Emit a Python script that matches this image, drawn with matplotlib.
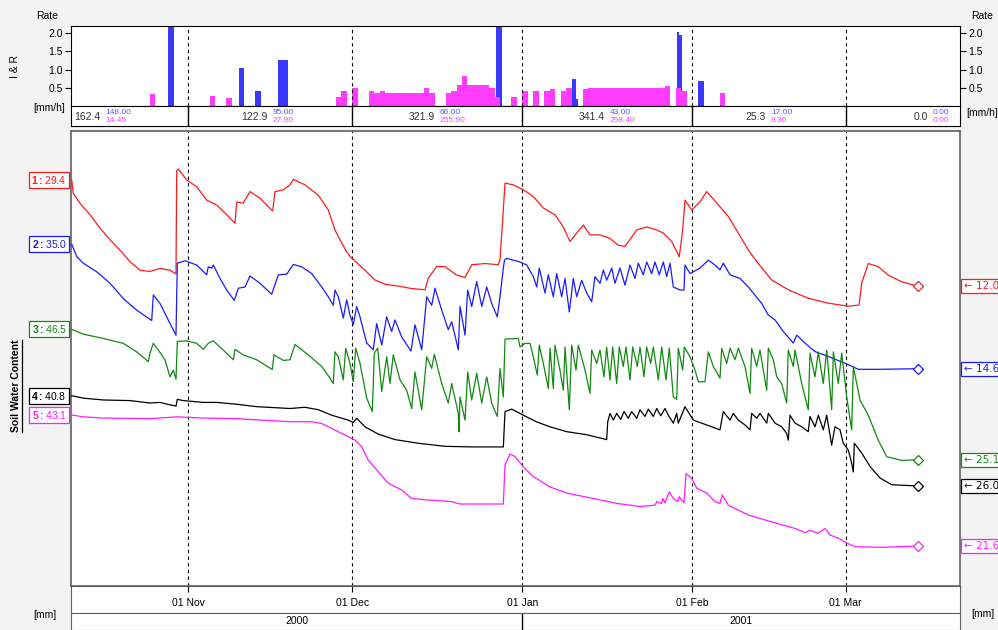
import numpy as np
import matplotlib
matplotlib.use('Agg')
import matplotlib.pyplot as plt
from matplotlib import transforms
from matplotlib.lines import Line2D
from matplotlib.ticker import FormatStrFormatter

plt.rcParams['font.family'] = ['Liberation Sans', 'DejaVu Sans']
plt.rcParams['mathtext.fontset'] = 'custom'
plt.rcParams['mathtext.rm'] = 'Liberation Sans'
plt.rcParams['mathtext.bf'] = 'Liberation Sans:bold'

# ---------------- data ----------------
# time axis in days since 2000-11-01 00:00
month_starts = [-31, 0, 30, 61, 92, 120, 151]
month_ticks = [0, 30, 61, 92, 120]
month_tick_labels = ['01 Nov', '01 Dec', '01 Jan', '01 Feb', '01 Mar']
year_labels = ['2000', '2001']
year_bounds = [-306, 61, 426]

rate_ticks = [0.5, 1.0, 1.5, 2.0]

# rain (pink) daily bars: day start, rate [mm/h]
rain_day = [-7, 4, 7, 27, 28, 30, 33, 34, 35, 36, 37, 38, 39, 40, 41, 42, 43, 44,
            47, 48, 49, 50, 51, 52, 53, 54, 55, 56, 59, 61, 63, 65, 66, 68, 69, 72,
            73, 74, 75, 76, 77, 78, 79, 80, 81, 82, 83, 84, 85, 86, 87, 89, 90, 97]
rain_rate = [0.33, 0.28, 0.22, 0.25, 0.42, 0.50, 0.42, 0.36, 0.42, 0.36, 0.36, 0.36, 0.36, 0.36, 0.36, 0.36, 0.50, 0.36,
             0.36, 0.42, 0.58, 0.83, 0.58, 0.58, 0.58, 0.58, 0.50, 0.25, 0.25, 0.42, 0.42, 0.42, 0.46, 0.42, 0.50, 0.46,
             0.50, 0.50, 0.50, 0.50, 0.50, 0.50, 0.50, 0.50, 0.50, 0.50, 0.50, 0.50, 0.50, 0.50, 0.55, 0.50, 0.42, 0.36]

# irrigation (blue) events: start day, duration [d], rate [mm/h]
irr_start = [-3.65, 9.3, 12.2, 16.4, 56.2, 70.1, 70.8, 89.2, 89.6, 93.1]
irr_dur = [1.1, 0.9, 1.2, 1.8, 1.1, 0.7, 0.4, 0.4, 0.5, 1.1]
irr_rate = [2.6, 1.03, 0.42, 1.25, 2.6, 0.75, 0.20, 2.03, 1.94, 0.69]

# monthly totals [mm]
tot_total = [162.4, 122.9, 321.9, 341.4, 25.3, 0.0]
tot_irr = [148.00, 95.00, 66.00, 43.00, 17.00, 0.00]
tot_rain = [14.45, 27.90, 255.90, 298.40, 8.30, 0.00]

# soil water content series
red_day = [-21.22, -20.93, -19.71, -17.88, -16.06, -14.23, -12.41, -10.58, -8.76, -6.93, -5.11, -3.28, -2.19, -2.06,
           -1.77, -0.24, 1.59, 3.41, 5.24, 7.06, 8.58, 8.89, 10.09, 11.31, 13.14, 15.46, 15.88, 17.39, 18.61, 19.22,
           21.35, 23.78, 25.6, 26.82, 27.74, 28.96, 29.87, 32.3, 34.12, 35.95, 38.38, 40.82, 43.25, 43.85, 45.38,
           46.9, 49.03, 50.55, 51.77, 54.2, 56.62, 56.93, 57.54, 57.85, 59.36, 61.19, 63.01, 64.84, 66.97, 68.49,
           69.71, 70.93, 72.14, 73.36, 75.18, 77.01, 78.52, 79.74, 81.88, 83.7, 85.53, 86.73, 88.27, 89.65, 90.27,
           90.69, 91.92, 93.43, 94.65, 97.08, 98.6, 100.42, 102.25, 104.07, 106.51, 109.54, 113.19, 116.84, 120.49,
           122.45, 122.94, 124.14, 125.91, 127.79, 130.24, 133.16]
red_val = [29.4, 27.2, 25.6, 23.7, 21.5, 19.6, 17.9, 16.0, 14.6, 14.4, 14.9, 14.6, 14.0, 31.0,
           31.2, 29.4, 28.3, 26.1, 25.3, 23.7, 22.3, 25.8, 25.6, 27.5, 26.4, 24.3, 27.5, 27.8, 28.6, 29.5,
           28.6, 26.9, 24.5, 21.2, 19.6, 17.6, 16.6, 14.6, 13.0, 12.3, 12.0, 11.6, 11.4, 13.3, 15.2,
           15.2, 13.8, 13.4, 15.5, 15.7, 15.5, 16.3, 24.5, 28.9, 28.6, 27.8, 26.7, 24.8, 23.7, 21.7,
           19.3, 20.7, 22.0, 20.4, 20.4, 19.8, 18.7, 18.5, 21.2, 21.7, 21.2, 20.7, 19.3, 16.8, 21.2,
           26.1, 24.5, 25.8, 27.5, 25.0, 23.4, 20.7, 17.9, 15.7, 13.0, 11.4, 10.0, 9.2, 8.7,
           8.9, 12.5, 15.7, 15.2, 13.8, 12.7, 12.0]

blue_day = [-21.22, -20.31, -19.11, -16.66, -14.23, -11.81, -9.36, -6.62, -6.33, -5.11,
            -3.28, -2.19, -1.95, -0.55, 1.59, 3.41, 3.70, 4.32, 4.62, 5.84,
            7.06, 8.45, 9.18, 10.4, 11.31, 13.14, 15.27, 16.48, 18.01, 19.22,
            20.75, 22.57, 24.4, 25.6, 26.51, 26.82, 27.43, 28.34, 28.96, 29.56,
            30.16, 30.78, 31.39, 32.61, 33.81, 34.43, 35.35, 36.26, 37.17, 37.77,
            38.99, 40.69, 41.42, 42.65, 43.56, 44.47, 45.07, 46.3, 47.5, 48.12,
            49.33, 49.64, 50.55, 51.04, 51.77, 52.68, 53.6, 54.51, 55.42, 56.44,
            56.93, 57.54, 57.76, 58.16, 60.58, 61.81, 63.01, 63.63, 64.1, 65.15,
            65.75, 66.66, 67.28, 68.19, 68.8, 69.58, 70.31, 70.93, 71.84, 72.76,
            73.67, 74.27, 75.18, 75.79, 76.4, 77.32, 77.92, 78.83, 79.74, 80.66,
            81.57, 82.17, 83.08, 83.7, 84.62, 85.22, 86.0, 86.73, 87.35, 87.96,
            88.56, 89.78, 90.51, 90.69, 91.61, 93.43, 94.95, 96.17, 97.08, 97.68,
            98.91, 100.73, 102.25, 103.16, 104.69, 105.9, 107.12, 108.63, 110.46, 111.08,
            112.59, 114.42, 116.84, 119.89, 122.32, 126.59, 133.16]
blue_val = [35.0, 33.0, 31.9, 30.5, 28.6, 26.1, 24.2, 22.5, 26.7, 25.3,
            22.0, 20.1, 31.9, 32.3, 31.6, 30.0, 31.3, 31.1, 31.6, 29.4,
            27.5, 25.8, 27.8, 28.0, 29.8, 28.6, 26.8, 30.0, 30.1, 31.7,
            31.3, 30.2, 28.0, 26.4, 25.0, 27.5, 26.4, 22.9, 25.9, 23.4,
            21.8, 24.8, 23.1, 18.8, 17.7, 22.0, 18.5, 23.1, 20.7, 22.6,
            19.8, 17.5, 21.8, 17.7, 26.4, 25.0, 27.8, 24.2, 21.0, 22.3,
            17.7, 24.8, 20.1, 27.5, 24.8, 28.9, 24.8, 28.0, 25.3, 23.1,
            26.4, 31.1, 32.4, 32.7, 32.1, 31.6, 29.7, 28.0, 31.1, 27.0,
            30.0, 26.4, 30.2, 26.4, 29.4, 23.9, 29.4, 26.4, 29.1, 27.0,
            25.6, 29.7, 28.6, 30.8, 29.1, 31.1, 28.6, 31.1, 28.3, 31.6,
            29.4, 31.9, 30.0, 32.1, 30.2, 32.1, 30.0, 32.1, 29.7, 31.9,
            28.0, 27.5, 27.5, 31.6, 30.2, 31.1, 32.4, 31.6, 30.8, 31.9,
            30.0, 29.4, 28.0, 27.0, 25.3, 23.4, 22.6, 20.7, 18.8, 20.1,
            18.8, 17.4, 16.6, 15.5, 14.5, 14.5, 14.6]

green_day = [-21.22, -19.11, -15.46, -11.81, -9.36, -7.24, -6.93, -6.33, -5.42, -4.2,
             -3.28, -2.68, -2.19, -1.95, -0.24, 1.59, 2.79, 3.7, 4.62, 6.44,
             8.27, 8.58, 10.09, 12.54, 15.38, 15.69, 17.39, 18.61, 19.53, 21.95,
             24.4, 25.91, 26.51, 26.82, 27.43, 28.34, 28.78, 29.56, 30.16, 30.6,
             31.39, 32.61, 33.63, 34.0, 34.62, 35.35, 36.26, 36.86, 37.46, 38.69,
             39.91, 40.82, 41.42, 42.65, 43.56, 44.47, 44.95, 46.3, 47.5, 48.12,
             49.33, 49.45, 49.64, 50.55, 51.04, 51.77, 52.68, 53.6, 54.51, 55.42,
             56.44, 56.93, 57.54, 57.85, 60.28, 60.58, 61.5, 62.41, 63.01, 63.74,
             64.1, 64.84, 65.75, 66.06, 66.66, 66.97, 67.88, 68.49, 68.8, 69.58,
             70.02, 70.8, 71.22, 72.45, 73.36, 73.67, 74.58, 75.18, 75.91, 76.4,
             77.01, 77.5, 78.23, 78.7, 79.43, 79.93, 80.66, 81.15, 81.99, 82.48,
             83.21, 83.7, 84.43, 84.91, 85.82, 86.44, 87.23, 87.83, 88.56, 89.18,
             89.47, 90.27, 90.57, 91.61, 92.52, 93.12, 94.34, 94.95, 95.86, 97.08,
             97.39, 98.3, 98.91, 99.82, 100.42, 101.64, 102.55, 102.86, 103.78, 104.38,
             105.6, 105.9, 106.81, 107.43, 108.34, 109.25, 109.54, 110.46, 110.77, 111.99,
             113.19, 113.5, 114.42, 115.02, 115.93, 116.55, 117.46, 117.76, 118.67, 119.29,
             120.2, 121.11, 121.41, 122.63, 124.14, 125.97, 127.5, 130.24, 133.16]
green_val = [46.5, 45.7, 45.0, 44.2, 42.8, 41.2, 42.6, 44.2, 43.1, 41.5,
             38.7, 39.8, 38.3, 44.5, 44.6, 44.2, 43.2, 44.2, 44.6, 43.1,
             41.5, 43.2, 42.3, 41.5, 39.9, 42.3, 41.4, 41.5, 44.0, 42.3,
             40.4, 38.5, 37.6, 42.8, 42.0, 38.2, 43.4, 40.9, 37.9, 43.4,
             40.9, 35.2, 33.0, 42.6, 43.4, 36.3, 42.0, 37.6, 42.3, 38.2,
             36.5, 33.5, 39.5, 33.3, 42.0, 40.1, 42.4, 37.6, 34.4, 37.6,
             32.7, 29.7, 35.4, 31.6, 39.5, 34.9, 39.3, 34.4, 38.7, 34.4,
             32.2, 40.1, 35.4, 44.9, 45.0, 43.6, 44.2, 44.2, 42.0, 39.0,
             43.9, 40.9, 36.8, 43.4, 36.8, 43.9, 39.8, 36.5, 43.6, 33.3,
             43.9, 39.8, 43.9, 39.8, 36.0, 43.1, 40.9, 43.1, 38.7, 43.6,
             38.2, 43.6, 37.6, 43.6, 40.4, 43.6, 38.2, 43.6, 40.4, 43.6,
             38.7, 43.6, 40.9, 43.6, 38.2, 43.6, 38.2, 43.4, 35.4, 35.0,
             43.4, 39.8, 43.6, 42.0, 39.8, 37.9, 37.9, 42.8, 40.4, 38.5,
             43.4, 40.9, 43.4, 41.5, 43.4, 40.4, 36.0, 43.4, 40.4, 43.1,
             36.5, 43.4, 41.5, 38.7, 37.6, 34.4, 43.1, 40.4, 43.1, 37.6,
             33.3, 42.6, 38.7, 42.8, 37.6, 43.1, 33.3, 42.8, 37.6, 42.6,
             35.4, 30.0, 40.4, 34.9, 32.4, 28.3, 25.6, 25.0, 25.1]

black_day = [-21.22, -19.11, -15.46, -10.58, -6.93, -5.11, -3.28, -2.19, -1.95, -0.86,
             2.79, 5.24, 8.89, 12.54, 18.61, 21.35, 23.78, 26.22, 29.25, 30.16,
             30.78, 32.3, 34.72, 37.77, 42.02, 46.9, 51.77, 57.54, 57.85, 59.07,
             61.19, 63.63, 66.06, 69.11, 72.76, 76.4, 76.59, 77.01, 77.61, 78.23,
             78.96, 79.56, 80.35, 80.97, 81.88, 82.48, 83.39, 84.0, 84.91, 85.53,
             86.26, 87.04, 87.65, 88.56, 89.18, 89.47, 90.69, 92.21, 94.65, 96.17,
             97.08, 97.68, 98.91, 99.51, 100.42, 101.64, 102.55, 102.86, 103.78, 104.38,
             105.6, 105.9, 107.12, 108.34, 109.25, 109.54, 109.85, 110.77, 111.99, 113.19,
             113.5, 114.42, 115.02, 115.93, 116.55, 117.46, 118.07, 118.98, 119.58, 120.49,
             121.11, 121.41, 121.59, 122.94, 124.45, 126.28, 128.41, 133.16]
black_val = [40.8, 40.4, 40.1, 40.0, 39.6, 39.7, 39.3, 39.1, 40.2, 40.0,
             39.7, 39.7, 39.4, 39.0, 38.7, 38.9, 38.5, 37.6, 36.8, 36.4,
             37.1, 35.7, 34.5, 33.6, 33.0, 32.5, 32.4, 32.4, 38.2, 38.6,
             37.6, 36.5, 35.7, 34.9, 34.4, 33.6, 36.5, 37.9, 36.8, 37.9,
             36.9, 38.2, 37.1, 38.2, 37.1, 38.5, 37.4, 38.6, 37.4, 38.7,
             37.5, 38.7, 37.6, 36.3, 37.9, 36.3, 39.0, 36.8, 36.0, 35.5,
             35.2, 38.2, 36.8, 37.9, 36.8, 36.0, 35.2, 37.9, 37.1, 37.9,
             36.3, 37.9, 36.3, 35.7, 34.6, 33.5, 37.6, 36.3, 35.7, 34.9,
             37.4, 35.7, 37.6, 35.2, 37.6, 32.7, 35.7, 35.2, 33.0, 31.9,
             29.7, 28.3, 33.0, 31.4, 29.2, 27.3, 26.2, 26.0]

magenta_day = [-21.22, -19.11, -15.46, -6.93, -2.06, 2.79, 8.89, 18.61, 22.57, 24.4,
               26.22, 28.65, 30.47, 31.7, 32.9, 34.43, 36.55, 38.99, 40.82, 43.25,
               48.12, 49.64, 57.54, 57.85, 58.76, 59.67, 61.19, 63.01, 66.06, 69.11,
               73.96, 78.23, 82.48, 85.22, 85.53, 86.44, 86.62, 87.04, 87.83, 88.56,
               89.36, 89.65, 90.51, 90.88, 91.92, 92.83, 94.65, 96.17, 97.08, 97.5,
               98.6, 102.25, 105.29, 108.34, 110.77, 112.59, 113.5, 115.02, 116.24, 117.15,
               118.67, 120.2, 121.72, 126.59, 133.16]
magenta_val = [43.1, 42.8, 42.6, 42.5, 42.8, 42.6, 42.5, 42.0, 42.0, 41.7,
               40.9, 39.8, 39.0, 37.9, 35.7, 34.1, 31.9, 30.8, 29.4, 29.2,
               28.9, 28.5, 28.5, 34.9, 36.7, 36.3, 34.6, 33.0, 31.3, 30.3,
               29.4, 28.6, 28.1, 28.3, 28.9, 28.6, 29.4, 28.7, 30.5, 29.4,
               28.9, 29.7, 28.7, 33.5, 32.7, 31.1, 30.3, 28.9, 28.6, 30.0,
               28.3, 26.7, 25.9, 25.1, 24.5, 23.8, 24.2, 23.7, 24.5, 23.4,
               22.9, 22.1, 21.5, 21.4, 21.6]

sensor_ids = ['1', '2', '3', '4', '5']
sensor_days = [red_day, blue_day, green_day, black_day, magenta_day]
sensor_vals = [red_val, blue_val, green_val, black_val, magenta_val]

# ---------------- styling / layout ----------------
sensor_colors = ['#ff1a1a', '#1a1aff', '#108a10', '#000000', '#ff1aff']
sensor_y0_px = [180, 244.3, 329.3, 395.7, 415]   # vertical placement of each trace
mm_per_px = 0.164

W, H = 998, 630
X0, X1 = 71, 960
DAY0_PX, PX_PER_DAY = 188, 5.48
xlim = ((X0 - DAY0_PX) / PX_PER_DAY, (X1 - DAY0_PX) / PX_PER_DAY)

fig = plt.figure(figsize=(W / 100, H / 100), dpi=100, facecolor='#f3f3f3')


def box(l, t, r, b):
    return [l / W, 1 - b / H, (r - l) / W, (b - t) / H]


dash = (0, (3, 3))
FS = 7.5

# ---- rate bars ----
axb = fig.add_axes(box(X0, 25.7, X1, 106))
axb.bar(irr_start, irr_rate, width=irr_dur, align='edge', color='#3838ff', linewidth=0)
axb.bar(rain_day, rain_rate, width=1.0, align='edge', color='#ff3cff', linewidth=0)
axb.set_xlim(xlim)
axb.set_ylim(0, 2.2)
axb.set_xticks([])
axb.set_yticks(rate_ticks)
axb.yaxis.set_major_formatter(FormatStrFormatter('%.1f'))
axb.tick_params(axis='y', left=True, right=True, labelleft=True, labelright=True,
                labelsize=FS, length=4, width=0.8, pad=2)
for d in month_ticks:
    axb.axvline(d, color='k', lw=0.8, ls=dash)
for s in axb.spines.values():
    s.set_linewidth(0.8)

# ---- totals row ----
axt = fig.add_axes(box(X0, 106, X1, 126))
axt.set_xlim(xlim)
axt.set_ylim(0, 1)
axt.set_xticks([])
axt.set_yticks([])
for s in axt.spines.values():
    s.set_linewidth(0.8)
for d in month_ticks:
    axt.axvline(d, color='k', lw=1.0)
tt = transforms.blended_transform_factory(axt.transData, axt.transAxes)
for i in range(len(tot_total)):
    c = (month_starts[i] + month_starts[i + 1]) / 2
    axt.text(c - 0.5, 0.45, f'{tot_total[i]:.1f}', transform=tt, ha='right', va='center',
             fontsize=FS, color='#333333')
    axt.text(c + 0.4, 0.70, f'{tot_irr[i]:.2f}', transform=tt, ha='left', va='center',
             fontsize=6, color='#5a5aff')
    axt.text(c + 0.4, 0.28, f'{tot_rain[i]:.2f}', transform=tt, ha='left', va='center',
             fontsize=6, color='#ff40ff')

# ---- main panel ----
main_top, main_bot = 131, 586
axm = fig.add_axes(box(X0, main_top, X1, main_bot))
axm.set_xlim(xlim)
axm.set_ylim(0, 1)
axm.set_xticks([])
axm.set_yticks([])
for s in axm.spines.values():
    s.set_color('#606060')
    s.set_linewidth(1.2)
for d in month_ticks:
    axm.axvline(d, color='k', lw=0.8, ls=dash)

span = mm_per_px * (main_bot - main_top)
for sid, days, vals, col, y0 in zip(sensor_ids, sensor_days, sensor_vals, sensor_colors, sensor_y0_px):
    ax = fig.add_axes(axm.get_position(), label='s' + sid)
    ax.patch.set_visible(False)
    ax.axis('off')
    top = vals[0] + mm_per_px * (y0 - main_top)
    ax.set_ylim(top - span, top)
    ax.set_xlim(xlim)
    ax.plot(days, vals, color=col, lw=0.9)
    ax.plot(days[-1], vals[-1], marker='D', ms=5.5, mfc='white', mec=col, mew=0.9)
    tr = transforms.blended_transform_factory(ax.transAxes, ax.transData)
    ax.text(-0.005, vals[0], r'$\bf{' + sid + ':}$' + f'{vals[0]:.1f}', transform=tr,
            ha='right', va='center', fontsize=FS, color=col, clip_on=False,
            bbox=dict(boxstyle='square,pad=0.2', fc='white', ec=col, lw=0.9))
    ax.text(1.004, vals[-1], f'\u2190 {vals[-1]:.1f}', transform=tr,
            ha='left', va='center', fontsize=FS, color=col, clip_on=False,
            family=['DejaVu Sans'],
            bbox=dict(boxstyle='square,pad=0.2', fc='white', ec=col, lw=0.9))

# ---- date row ----
axd = fig.add_axes(box(X0, main_bot, X1, 613))
axd.set_xlim(xlim)
axd.set_ylim(0, 1)
axd.set_yticks([])
axd.set_xticks(month_ticks)
axd.tick_params(axis='x', bottom=False, top=True, labelbottom=False, labeltop=False,
                direction='in', length=4, width=0.8)
for s in axd.spines.values():
    s.set_color('#606060')
td = transforms.blended_transform_factory(axd.transData, axd.transAxes)
for d, lab in zip(month_ticks, month_tick_labels):
    axd.text(d, 0.38, lab, transform=td, ha='center', va='center', fontsize=FS)

# ---- year row ----
axy = fig.add_axes(box(X0, 613, X1, 630))
axy.set_xlim(xlim)
axy.set_ylim(0, 1)
axy.set_xticks([])
axy.set_yticks([])
for s in axy.spines.values():
    s.set_color('#606060')
ty = transforms.blended_transform_factory(axy.transData, axy.transAxes)
for i, lab in enumerate(year_labels):
    a = max(xlim[0], year_bounds[i])
    b = min(xlim[1], year_bounds[i + 1])
    axy.text((a + b) / 2, 0.5, lab, transform=ty, ha='center', va='center', fontsize=FS)
    if xlim[0] < year_bounds[i + 1] < xlim[1]:
        axy.axvline(year_bounds[i + 1], color='k', lw=1.0)

# ---- outer labels ----
def ftext(x, y, s, **kw):
    return fig.text(x / W, 1 - y / H, s, ha='center', va='center', fontsize=FS, **kw)

ftext(47, 16, 'Rate')
ftext(982, 16, 'Rate')
ftext(49, 108, '[mm/h]')
ftext(982, 113, '[mm/h]')
ftext(15.5, 66, 'I & R', rotation=90)
ftext(45, 615, '[mm]')
ftext(983, 614, '[mm]')
swc = ftext(16, 386, 'Soil Water Content', rotation=90, fontweight='bold')

fig.canvas.draw()
bb = swc.get_window_extent()
ux = (bb.x1 + 0.5) / W
fig.add_artist(Line2D([ux, ux], [bb.y0 / H, bb.y1 / H], transform=fig.transFigure,
                      color='k', lw=0.9))

fig.savefig('out.png', dpi=100, facecolor=fig.get_facecolor())
